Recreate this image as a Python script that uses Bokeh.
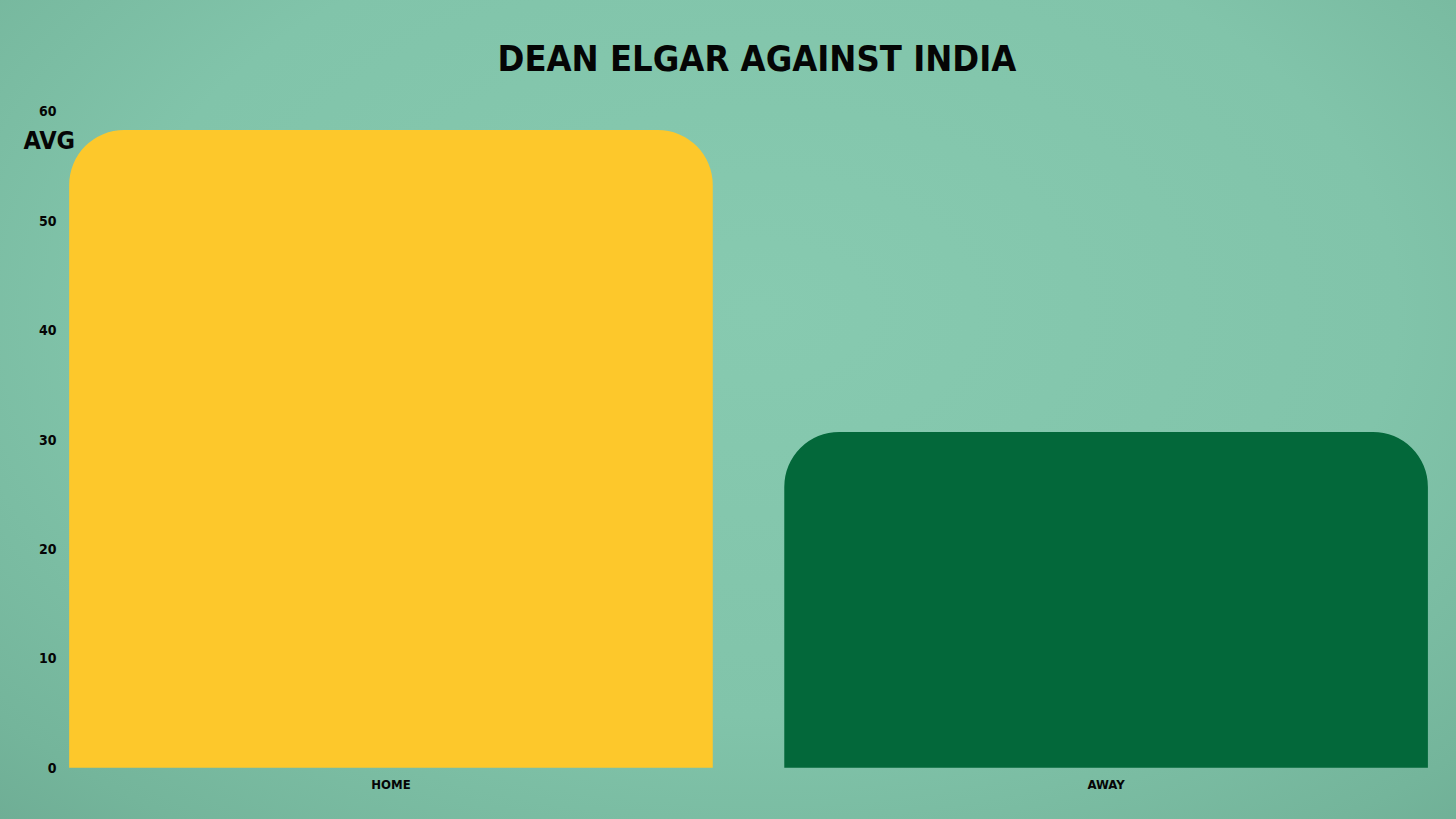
from bokeh.plotting import figure
from bokeh.models import Range1d, Label, FixedTicker
from bokeh.embed import file_html
from bokeh.resources import INLINE

categories = ["HOME", "AWAY"]
averages = [58.3, 30.7]
bar_colors = ["#FDC82B", "#03683A"]
y_ticks = [0, 10, 20, 30, 40, 50, 60]
title_text = "DEAN ELGAR AGAINST INDIA"
y_label_text = "AVG"

BG_CSS = "radial-gradient(ellipse 80% 90% at 52% 38%, #87CAB0 0%, #81C4AA 55%, #74B59B 85%, #6CAA92 100%)"
FONT = "'DejaVu Sans Condensed', Roboto"

# category slots: index i occupies [i, i+1], bar centred at i + 0.5
x_pos = [i + 0.5 for i in range(len(categories))]

p = figure(
    width=1456, height=819,
    x_range=Range1d(-0.046, 1.990),
    y_range=Range1d(-0.8, 62),
    output_backend="svg", toolbar_location=None,
    min_border_left=0, min_border_right=0, min_border_top=89, min_border_bottom=43,
)
p.background_fill_alpha = 0
p.border_fill_alpha = 0
p.styles = {"background": BG_CSS}
p.outline_line_color = None
p.grid.visible = False

p.vbar(x=x_pos, top=averages, width=0.9, bottom=0,
       fill_color=bar_colors, line_color=None,
       border_radius=(55, 55, 0, 0))

p.title.text = title_text
p.title.align = "left"
p.title.offset = 497
p.title.text_font = FONT
p.title.text_font_size = "36px"
p.title.text_font_style = "bold"
p.title.text_color = "#050505"
p.title.standoff = 22

for ax in (p.xaxis[0], p.yaxis[0]):
    ax.axis_line_color = None
    ax.major_tick_line_color = None
    ax.minor_tick_line_color = None
    ax.major_tick_out = 0
    ax.major_tick_in = 0
    ax.major_label_text_font = FONT
    ax.major_label_text_font_style = "bold"
    ax.major_label_text_color = "#050505"

p.yaxis[0].ticker = FixedTicker(ticks=y_ticks)
p.yaxis[0].fixed_location = 0.0407
p.yaxis[0].major_label_text_font_size = "14px"
p.yaxis[0].major_label_standoff = 6

p.xaxis[0].ticker = FixedTicker(ticks=x_pos)
p.xaxis[0].major_label_overrides = {x: c for x, c in zip(x_pos, categories)}
p.xaxis[0].major_label_text_font_size = "13px"
p.xaxis[0].major_label_standoff = 0

p.add_layout(Label(x=23, y=57.35, x_units="screen", y_units="data",
                   text=y_label_text, text_font=FONT, text_font_style="bold",
                   text_font_size="25px", text_color="#050505",
                   text_baseline="middle", text_align="left"))

open("out.html", "w").write(file_html(p, INLINE))
